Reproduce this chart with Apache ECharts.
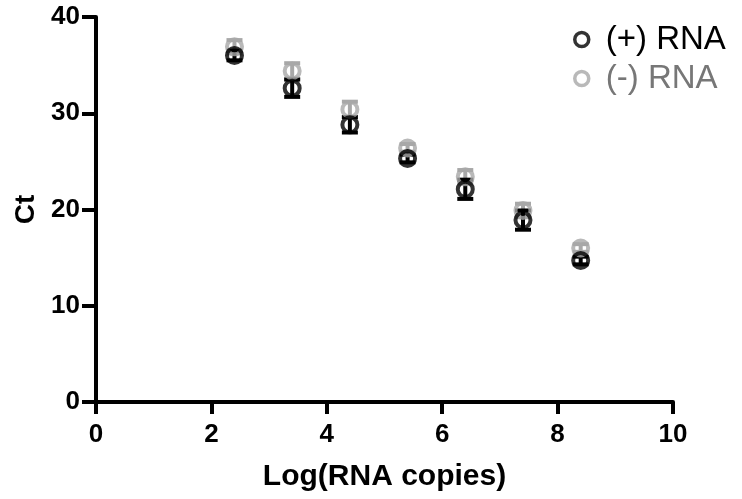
<!DOCTYPE html>
<html>
<head>
<meta charset="utf-8">
<script src="https://cdn.jsdelivr.net/npm/echarts@6/dist/echarts.min.js"></script>
<style>html,body{margin:0;padding:0;background:#fff;}#c{width:742px;height:499px;}</style>
</head>
<body>
<div id="c"></div>
<script>
var xValues = [2.4, 3.4, 4.4, 5.4, 6.4, 7.4, 8.4];
var plusMean = [36.0, 32.6, 28.8, 25.3, 22.1, 18.9, 14.7];
var plusErr  = [0.5, 0.9, 0.8, 0.4, 1.0, 1.0, 0.4];
var minusMean = [36.9, 34.4, 30.4, 26.4, 23.4, 19.9, 16.0];
var minusErr  = [0.7, 0.8, 0.8, 0.4, 0.7, 0.7, 0.4];
var xTicks = [0, 2, 4, 6, 8, 10];
var yTicks = [0, 10, 20, 30, 40];
var seriesNames = ['(+) RNA', '(-) RNA'];

var BLACK = '#000000', GREY = '#a8a8a8';
var FONT = '"Liberation Sans", Arial, sans-serif';

function pts(mean){ return xValues.map(function(x,i){ return [x, mean[i]]; }); }
function errs(mean, err){ return xValues.map(function(x,i){ return [x, mean[i]-err[i], mean[i]+err[i]]; }); }

function errRender(color){
  return function(params, api){
    var x = api.value(0), lo = api.value(1), hi = api.value(2);
    var p1 = api.coord([x, hi]), p2 = api.coord([x, lo]);
    var w = 8;
    var st = {stroke: color, lineWidth: 4};
    return {type:'group', children:[
      {type:'line', shape:{x1:p1[0], y1:p1[1], x2:p2[0], y2:p2[1]}, style:st},
      {type:'line', shape:{x1:p1[0]-w, y1:p1[1], x2:p1[0]+w, y2:p1[1]}, style:st},
      {type:'line', shape:{x1:p2[0]-w, y1:p2[1], x2:p2[0]+w, y2:p2[1]}, style:st}
    ]};
  };
}

var chart = echarts.init(document.getElementById('c'), null, {renderer:'canvas'});
chart.setOption({
  animation: false,
  backgroundColor: '#fff',
  grid: {left: 96, right: 69, top: 17, bottom: 97, containLabel: false, outerBoundsMode: 'none'},
  legend: {
    data: [
      {name: seriesNames[0], textStyle:{color: BLACK}, itemStyle:{borderColor: BLACK, borderWidth: 3.5, color:'rgba(0,0,0,0)'}},
      {name: seriesNames[1], textStyle:{color: '#777777'}, itemStyle:{borderColor: GREY, borderWidth: 3.5, color:'rgba(0,0,0,0)'}}
    ],
    orient: 'vertical', left: 568, top: 18,
    itemWidth: 14, itemHeight: 14, itemGap: 6,
    textStyle: {fontFamily: FONT, fontSize: 33, padding:[0,0,0,12]},
    icon: 'circle'
  },
  xAxis: {
    type: 'value', min: 0, max: 10, interval: 2,
    name: 'Log(RNA copies)', nameLocation: 'middle', nameGap: 60,
    nameTextStyle: {fontFamily: FONT, fontSize: 30, fontWeight: 'bold', color: BLACK},
    axisLine: {show: true, onZero: false, lineStyle: {color: BLACK, width: 4}},
    axisTick: {show: true, inside: false, length: 12, lineStyle: {color: BLACK, width: 4}},
    axisLabel: {inside: false, fontFamily: FONT, fontSize: 26, fontWeight: 'bold', color: BLACK, margin: 20,
      formatter: function(v){ return xTicks.indexOf(v) >= 0 ? String(v) : ''; }},
    splitLine: {show: false}
  },
  yAxis: {
    type: 'value', min: 0, max: 40, interval: 10,
    name: 'Ct', nameLocation: 'middle', nameGap: 46, nameRotate: 90,
    nameTextStyle: {fontFamily: FONT, fontSize: 28, fontWeight: 'bold', color: BLACK},
    axisLine: {show: true, onZero: false, lineStyle: {color: BLACK, width: 4}},
    axisTick: {show: true, inside: false, length: 14, lineStyle: {color: BLACK, width: 4}},
    axisLabel: {inside: false, fontFamily: FONT, fontSize: 26, fontWeight: 'bold', color: BLACK, margin: 16,
      formatter: function(v){ return yTicks.indexOf(v) >= 0 ? String(v) : ''; }},
    splitLine: {show: false}
  },
  series: [
    {type:'custom', name: seriesNames[1]+' err', data: errs(minusMean, minusErr), renderItem: errRender(GREY), silent:true},
    {type:'scatter', name: seriesNames[1], data: pts(minusMean), symbol:'circle', symbolSize: 15,
      itemStyle:{color:'rgba(0,0,0,0)', borderColor: GREY, borderWidth: 4}},
    {type:'custom', name: seriesNames[0]+' err', data: errs(plusMean, plusErr), renderItem: errRender(BLACK), silent:true},
    {type:'scatter', name: seriesNames[0], data: pts(plusMean), symbol:'circle', symbolSize: 15,
      itemStyle:{color:'rgba(0,0,0,0)', borderColor: BLACK, borderWidth: 4}}
  ]
});
</script>
</body>
</html>
